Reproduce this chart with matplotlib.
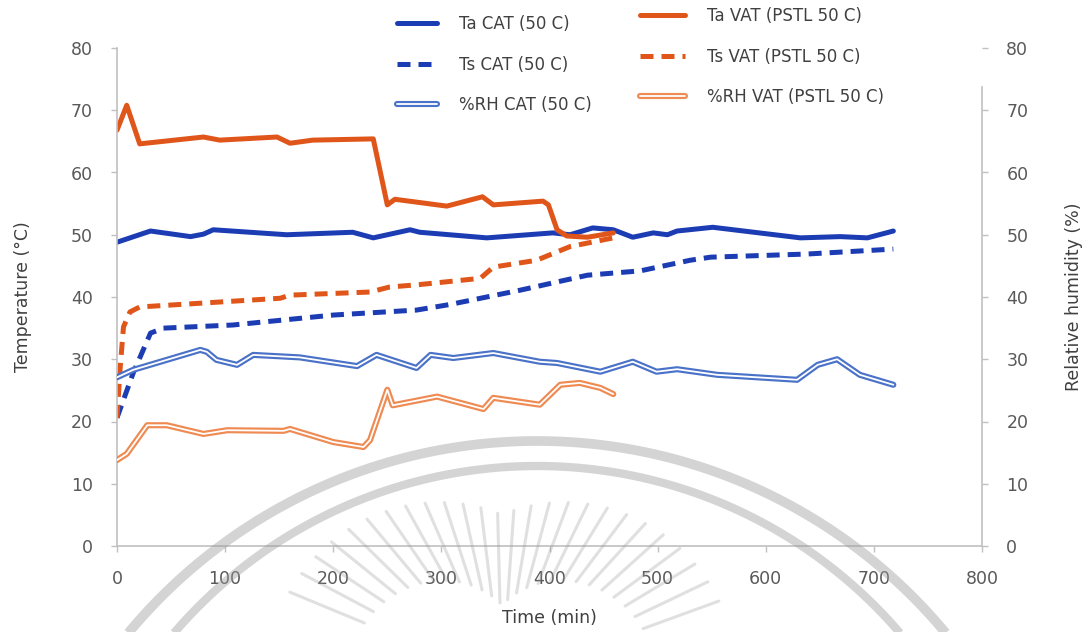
import matplotlib
matplotlib.use("Agg")
import matplotlib.pyplot as plt
from matplotlib.legend_handler import HandlerTuple
import numpy as np

# time (min) / value pairs for each logged series
ta_cat_t = [0, 31, 68, 80, 89, 157, 218, 237, 271, 280, 342, 403, 419, 440, 459,
            477, 496, 509, 518, 551, 632, 669, 694, 718]
ta_cat_v = [48.8, 50.6, 49.7, 50.1, 50.8, 50.0, 50.4, 49.5, 50.8, 50.4, 49.5, 50.3,
            50.0, 51.1, 50.8, 49.6, 50.3, 50.0, 50.6, 51.2, 49.5, 49.7, 49.5, 50.6]

ts_cat_t = [0, 15, 31, 43, 107, 200, 277, 308, 373, 435, 484, 530, 549, 638, 718]
ts_cat_v = [20.6, 27.8, 34.2, 35.0, 35.5, 37.1, 37.9, 38.8, 41.1, 43.5, 44.2, 45.9,
            46.4, 46.9, 47.7]

rh_cat_t = [0, 15, 77, 83, 92, 111, 126, 169, 222, 240, 277, 290, 311, 348, 391,
            407, 447, 477, 499, 518, 555, 629, 648, 666, 687, 718]
rh_cat_v = [27.1, 28.3, 31.5, 31.2, 29.9, 29.1, 30.7, 30.3, 28.9, 30.7, 28.6, 30.7,
            30.2, 31.0, 29.6, 29.4, 28.0, 29.6, 28.0, 28.4, 27.5, 26.7, 29.1, 30.0,
            27.5, 25.9]

ta_vat_t = [0, 9, 21, 80, 95, 148, 160, 181, 237, 250, 257, 305, 338, 348, 394,
            399, 407, 416, 435, 459]
ta_vat_v = [66.8, 70.8, 64.6, 65.7, 65.2, 65.7, 64.7, 65.2, 65.4, 54.8, 55.7, 54.6,
            56.1, 54.8, 55.4, 54.8, 50.8, 49.8, 49.6, 50.3]

ts_vat_t = [0, 3, 6, 12, 21, 77, 151, 160, 234, 252, 280, 336, 348, 388, 419, 459]
ts_vat_v = [20.6, 28.8, 35.2, 37.6, 38.4, 39.0, 39.8, 40.3, 40.8, 41.6, 42.0, 43.0,
            44.8, 45.9, 48.1, 49.5]

rh_vat_t = [0, 9, 28, 46, 80, 102, 154, 160, 200, 228, 234, 250, 255, 296, 339,
            348, 391, 410, 428, 447, 459]
rh_vat_v = [13.8, 14.8, 19.4, 19.4, 18.0, 18.6, 18.5, 18.8, 16.7, 15.9, 17.0, 25.1,
            22.6, 24.0, 22.0, 23.8, 22.7, 25.9, 26.2, 25.4, 24.4]

x_ticks = [0, 100, 200, 300, 400, 500, 600, 700, 800]
y_ticks = [0, 10, 20, 30, 40, 50, 60, 70, 80]

BLUE = '#1c3cb4'
BLUE_RH = '#4a72c8'
ORANGE = '#e0561a'
ORANGE_RH = '#ee8a52'
AXC = '#c0c0c0'
TXT = '#595959'

plt.rcParams['font.family'] = ['DejaVu Sans']

W, H = 1089, 632
fig = plt.figure(figsize=(W / 100, H / 100), dpi=100)
ax = fig.add_axes([117 / W, 1 - 546 / H, (982 - 117) / W, (546 - 48) / H])
ax2 = ax.twinx()

lw = 3.6
solid = dict(lw=lw, solid_capstyle='round', solid_joinstyle='round')
dash = dict(lw=lw, ls=(0, (2.6, 1.6)), dash_capstyle='butt', dash_joinstyle='round')


def hollow(axis, t, v, color):
    outer, = axis.plot(t, v, color=color, lw=4.4, solid_capstyle='round',
                       solid_joinstyle='round')
    inner, = axis.plot(t, v, color='white', lw=1.3, solid_capstyle='round',
                       solid_joinstyle='round')
    return outer, inner


l1, = ax.plot(ta_cat_t, ta_cat_v, color=BLUE, **solid)
l2, = ax.plot(ts_cat_t, ts_cat_v, color=BLUE, **dash)
l4, = ax.plot(ta_vat_t, ta_vat_v, color=ORANGE, **solid)
l5, = ax.plot(ts_vat_t, ts_vat_v, color=ORANGE, **dash)
l3 = hollow(ax2, rh_cat_t, rh_cat_v, BLUE_RH)
l6 = hollow(ax2, rh_vat_t, rh_vat_v, ORANGE_RH)

for a in (ax, ax2):
    a.set_xlim(0, 800)
    a.set_ylim(0, 80)
    a.set_yticks(y_ticks)
    a.spines['top'].set_visible(False)
    for s in a.spines.values():
        s.set_color(AXC)
        s.set_linewidth(1.2)
    a.tick_params(direction='out', length=4.5, width=1.0, color=AXC,
                  labelsize=12.5, labelcolor=TXT, pad=13)
ax.set_xticks(x_ticks)
ax2.spines['left'].set_visible(False)
ax2.spines['bottom'].set_visible(False)
ax.spines['right'].set_visible(False)
ax2.spines['right'].set_bounds(0, 73.7)

ax.set_xlabel('Time (min)', fontsize=12.5, color='#404040', labelpad=15)
ax.set_ylabel('Temperature (°C)', fontsize=12.5, color='#404040', labelpad=28)
ax2.set_ylabel('Relative humidity (%)', fontsize=12.5, color='#404040',
               rotation=90, labelpad=26)

# legend, split in two columns placed by hand
leg_kw = dict(frameon=False, fontsize=12, labelspacing=1.35, handletextpad=1.3,
              borderpad=0, borderaxespad=0, labelcolor='#404040',
              handler_map={tuple: HandlerTuple(ndivide=1)},
              bbox_transform=fig.transFigure, loc='upper left')
fig.legend([l1, l2, tuple(l3)],
           ['Ta CAT (50 C)', 'Ts CAT (50 C)', '%RH CAT (50 C)'],
           bbox_to_anchor=(397 / W, 1 - 15 / H), handlelength=2.4, **leg_kw)
fig.legend([l4, l5, tuple(l6)],
           ['Ta VAT (PSTL 50 C)', 'Ts VAT (PSTL 50 C)', '%RH VAT (PSTL 50 C)'],
           bbox_to_anchor=(640 / W, 1 - 7 / H), handlelength=2.7, **leg_kw)

# faint seal watermark over the lower part of the plot
wm = fig.add_axes([0, 0, 1, 1], zorder=5)
wm.set_xlim(0, W)
wm.set_ylim(H, 0)
wm.axis('off')
wm.patch.set_alpha(0)
ang = np.linspace(0, 2 * np.pi, 400)
GRAY = '#9a9a9a'
for cx, cy, r, w in [(537, 972, 531, 7.0), (537, 944, 478, 6.0)]:
    wm.plot(cx + r * np.cos(ang), cy + r * np.sin(ang), color=GRAY,
            lw=w, alpha=0.42, solid_capstyle='butt')
rx, ry = 502, 680
for deg in np.arange(20, 161, 5.5):
    a = np.deg2rad(deg)
    k = abs(np.cos(a))
    r1 = 75 + 80 * k
    r2 = 165 + 70 * k
    wm.plot([rx + r1 * np.cos(a), rx + r2 * np.cos(a)],
            [ry - r1 * np.sin(a), ry - r2 * np.sin(a)],
            color=GRAY, lw=2.2, alpha=0.3, solid_capstyle='round')

fig.savefig('out.png', dpi=100)
